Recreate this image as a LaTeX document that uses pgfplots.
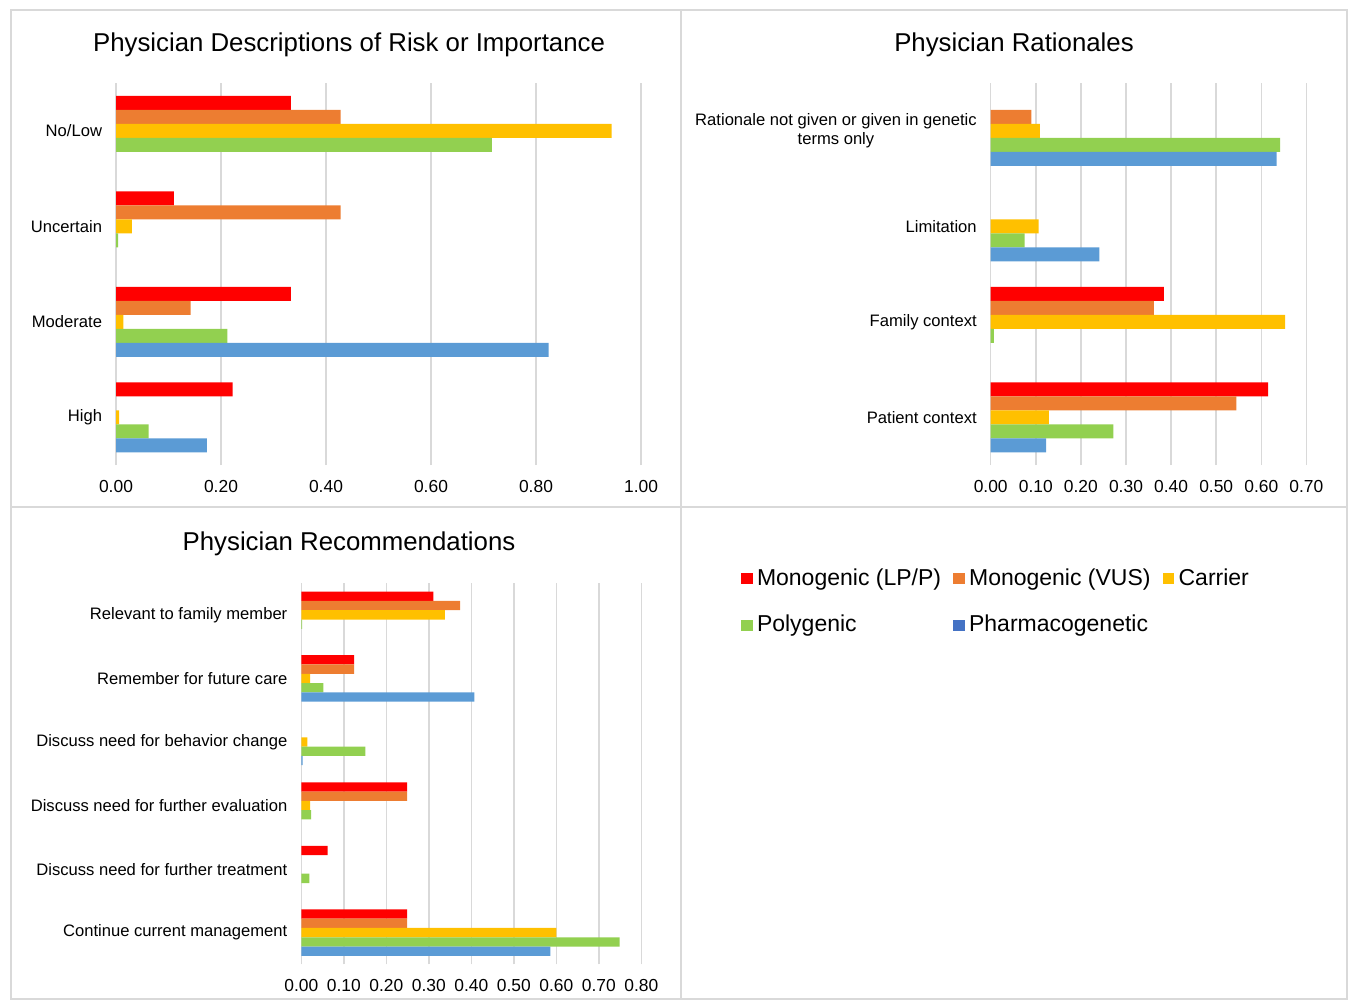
\documentclass[border=0pt]{standalone}
\usepackage{pgfplots}
\pgfplotsset{compat=1.18}
\usepackage{fontspec}
\setmainfont{Liberation Sans}
\definecolor{cRed}{HTML}{FF0000}
\definecolor{cOrange}{HTML}{ED7D31}
\definecolor{cYellow}{HTML}{FFC000}
\definecolor{cGreen}{HTML}{92D050}
\definecolor{cBlue}{HTML}{5B9BD5}
\definecolor{cBlueL}{HTML}{4472C4}
\definecolor{gridgray}{HTML}{D9D9D9}
\pgfplotsset{
  panel/.style={
    xbar, scale only axis, anchor=south west,
    axis line style={draw=none}, tick style={draw=none},
    xmajorgrids, grid style={draw=gridgray, line width=0.75pt},
    enlargelimits=false, xmin=0, scaled x ticks=false,
    xticklabel style={font=\fontsize{8.7}{10}\selectfont, yshift=-4pt,
      /pgf/number format/fixed, /pgf/number format/fixed zerofill,
      /pgf/number format/precision=2, /pgf/number format/assume math mode=true},
    yticklabel style={font=\fontsize{8.3}{9.5}\selectfont, xshift=0.8pt, align=center},
  },
}
\begin{document}
\begin{tikzpicture}
\useasboundingbox (0,0) rectangle (674.5pt,-500pt);
\draw[gridgray, line width=0.75pt] (5.5pt,-5pt) rectangle (673.5pt,-499.5pt);
\draw[gridgray, line width=0.75pt] (340.5pt,-5pt) -- (340.5pt,-499.5pt);
\draw[gridgray, line width=0.75pt] (5.5pt,-253.5pt) -- (673.5pt,-253.5pt);

\node[font=\fontsize{12.9}{14}\selectfont] at (174.5pt,-22.5pt) {Physician Descriptions of Risk or Importance};
\node[font=\fontsize{12.9}{14}\selectfont] at (507pt,-22.5pt) {Physician Rationales};
\node[font=\fontsize{12.9}{14}\selectfont] at (174.5pt,-272pt) {Physician Recommendations};

% Panel 1
\begin{axis}[panel, at={(58pt,-232.5pt)}, width=262.5pt, height=191pt,
  xmax=1, xtick={0,0.2,0.4,0.6,0.8,1.0},
  ymin=-0.5, ymax=3.5, ytick={0,1,2,3},
  yticklabels={High,Moderate,Uncertain,No/Low},
  bar width=7pt]
\addplot[fill=cRed, draw=none, bar shift=14pt] coordinates {(0.333,3) (0.110,2) (0.333,1) (0.222,0)};
\addplot[fill=cOrange, draw=none, bar shift=7pt] coordinates {(0.428,3) (0.428,2) (0.142,1)};
\addplot[fill=cYellow, draw=none, bar shift=0pt] coordinates {(0.944,3) (0.030,2) (0.014,1) (0.006,0)};
\addplot[fill=cGreen, draw=none, bar shift=-7pt] coordinates {(0.716,3) (0.004,2) (0.212,1) (0.062,0)};
\addplot[fill=cBlue, draw=none, bar shift=-14pt] coordinates {(0.824,1) (0.173,0)};
\end{axis}

% Panel 2
\begin{axis}[panel, at={(495.35pt,-232.5pt)}, width=157.85pt, height=191pt,
  xmax=0.7, xtick={0,0.1,0.2,0.3,0.4,0.5,0.6,0.7},
  ymin=-0.5, ymax=3.5, ytick={0,1,2,3},
  yticklabels={Patient context,Family context,Limitation,{Rationale not given or given in genetic\\terms only}},
  bar width=7pt]
\addplot[fill=cRed, draw=none, bar shift=14pt] coordinates {(0.384,1) (0.615,0)};
\addplot[fill=cOrange, draw=none, bar shift=7pt] coordinates {(0.090,3) (0.362,1) (0.545,0)};
\addplot[fill=cYellow, draw=none, bar shift=0pt] coordinates {(0.109,3) (0.106,2) (0.653,1) (0.129,0)};
\addplot[fill=cGreen, draw=none, bar shift=-7pt] coordinates {(0.642,3) (0.075,2) (0.007,1) (0.272,0)};
\addplot[fill=cBlue, draw=none, bar shift=-14pt] coordinates {(0.634,3) (0.241,2) (0.123,0)};
\end{axis}

% Panel 3
\begin{axis}[panel, at={(150.65pt,-482.2pt)}, width=170pt, height=190.65pt,
  xmax=0.8, xtick={0,0.1,0.2,0.3,0.4,0.5,0.6,0.7,0.8},
  ymin=-0.5, ymax=5.5, ytick={0,1,2,3,4,5},
  yticklabels={Continue current management,Discuss need for further treatment,Discuss need for further evaluation,Discuss need for behavior change,Remember for future care,Relevant to family member},
  bar width=4.65pt]
\addplot[fill=cRed, draw=none, bar shift=9.3pt] coordinates {(0.311,5) (0.124,4) (0.249,2) (0.062,1) (0.249,0)};
\addplot[fill=cOrange, draw=none, bar shift=4.65pt] coordinates {(0.374,5) (0.124,4) (0.249,2) (0.249,0)};
\addplot[fill=cYellow, draw=none, bar shift=0pt] coordinates {(0.338,5) (0.021,4) (0.014,3) (0.021,2) (0.600,0)};
\addplot[fill=cGreen, draw=none, bar shift=-4.65pt] coordinates {(0.002,5) (0.052,4) (0.151,3) (0.023,2) (0.019,1) (0.749,0)};
\addplot[fill=cBlue, draw=none, bar shift=-9.3pt] coordinates {(0.407,4) (0.003,3) (0.586,0)};
\end{axis}

% Legend
\begin{axis}[hide axis, scale only axis, width=10pt, height=10pt,
  at={(370.5pt,-282pt)}, anchor=north west, xmin=0, xmax=1, ymin=0, ymax=1,
  legend columns=3,
  legend style={at={(0,1)}, anchor=north west, draw=none, fill=none,
    font=\fontsize{11.5}{13}\selectfont, inner sep=0pt, row sep=9pt,
    nodes={inner sep=2.2pt},
    /tikz/every even column/.append style={column sep=4pt}},
  legend cell align=left]
\addlegendimage{legend image code/.code={\fill[cRed] (0pt,-2.6pt) rectangle (5.2pt,2.6pt);}}
\addlegendentry{Monogenic (LP/P)}
\addlegendimage{legend image code/.code={\fill[cOrange] (0pt,-2.6pt) rectangle (5.2pt,2.6pt);}}
\addlegendentry{Monogenic (VUS)}
\addlegendimage{legend image code/.code={\fill[cYellow] (0pt,-2.6pt) rectangle (5.2pt,2.6pt);}}
\addlegendentry{Carrier}
\addlegendimage{legend image code/.code={\fill[cGreen] (0pt,-2.6pt) rectangle (5.2pt,2.6pt);}}
\addlegendentry{Polygenic}
\addlegendimage{legend image code/.code={\fill[cBlueL] (0pt,-2.6pt) rectangle (5.2pt,2.6pt);}}
\addlegendentry{Pharmacogenetic}
\end{axis}
\end{tikzpicture}
\end{document}
